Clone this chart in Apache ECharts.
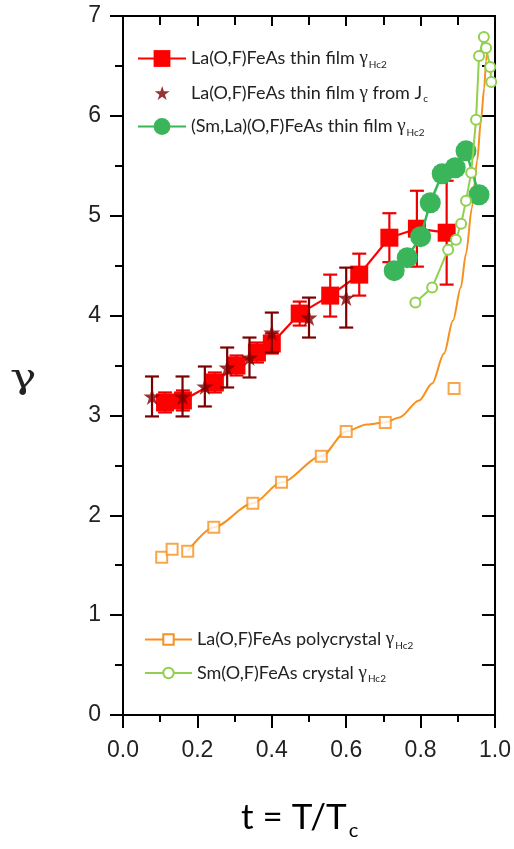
<!DOCTYPE html>
<html lang="en">
<head>
  <meta charset="UTF-8">
  <script src="https://cdn.jsdelivr.net/npm/echarts@6/dist/echarts.min.js"></script>
  <title>gamma vs t</title>
  <style>
    html, body { margin: 0; padding: 0; background: #fff; }
    #chart { width: 514px; height: 849px; }
  </style>
</head>
<body>
<div id="chart"></div>
<script>
  // La(O,F)FeAs thin film, gamma from Hc2 (red squares)
  var redT = [0.113, 0.161, 0.247, 0.305, 0.360, 0.400, 0.475, 0.557, 0.635, 0.716, 0.790, 0.870];
  var redG = [3.13, 3.15, 3.33, 3.50, 3.63, 3.72, 4.02, 4.20, 4.41, 4.78, 4.87, 4.83];
  var redErr = [0.10, 0.10, 0.10, 0.10, 0.10, 0.10, 0.12, 0.21, 0.21, 0.245, 0.38, 0.52];

  // La(O,F)FeAs thin film, gamma from Jc (stars)
  var starT = [0.078, 0.160, 0.220, 0.280, 0.340, 0.400, 0.500, 0.600];
  var starG = [3.19, 3.19, 3.29, 3.48, 3.58, 3.83, 3.98, 4.18];
  var starErr = [0.20, 0.20, 0.20, 0.20, 0.20, 0.20, 0.20, 0.30];

  // (Sm,La)(O,F)FeAs thin film
  var smlaT = [0.729, 0.764, 0.800, 0.826, 0.858, 0.893, 0.922, 0.957];
  var smlaG = [4.45, 4.58, 4.79, 5.13, 5.42, 5.48, 5.65, 5.21];

  // Sm(O,F)FeAs crystal
  var smT = [0.786, 0.831, 0.874, 0.895, 0.909, 0.922, 0.936, 0.949, 0.957, 0.970, 0.976, 0.987, 0.990];
  var smG = [4.13, 4.28, 4.66, 4.76, 4.92, 5.15, 5.43, 5.96, 6.60, 6.79, 6.68, 6.49, 6.34];

  // La(O,F)FeAs polycrystal points and its guide curve
  var polyT = [0.104, 0.132, 0.174, 0.244, 0.349, 0.426, 0.533, 0.600, 0.705, 0.890];
  var polyG = [1.58, 1.66, 1.64, 1.88, 2.12, 2.33, 2.59, 2.84, 2.93, 3.27];
  var fitT = [0.174, 0.244, 0.349, 0.426, 0.533, 0.600, 0.655, 0.705, 0.743, 0.796, 0.831, 0.863, 0.887, 0.908, 0.922, 0.938, 0.952, 0.962, 0.971, 0.976, 0.981];
  var fitG = [1.64, 1.88, 2.12, 2.33, 2.59, 2.84, 2.91, 2.93, 2.98, 3.15, 3.32, 3.62, 3.95, 4.28, 4.62, 5.08, 5.55, 5.95, 6.28, 6.55, 6.73];

  var N_RED = 'La(O,F)FeAs thin film γHc2';
  var N_STAR = 'La(O,F)FeAs thin film γ from Jc';
  var N_SMLA = '(Sm,La)(O,F)FeAs thin film γHc2';
  var N_POLY = 'La(O,F)FeAs polycrystal γHc2';
  var N_SM = 'Sm(O,F)FeAs crystal γHc2';

  var legendText = {};
  legendText[N_RED] = '{n|La(O,F)FeAs thin film }{g|γ}{s|Hc2}';
  legendText[N_STAR] = '{n|La(O,F)FeAs thin film }{g|γ}{n| from J}{s|c}';
  legendText[N_SMLA] = '{n|(Sm,La)(O,F)FeAs thin film }{g|γ}{s|Hc2}';
  legendText[N_POLY] = '{n|La(O,F)FeAs polycrystal }{g|γ}{s|Hc2}';
  legendText[N_SM] = '{n|Sm(O,F)FeAs crystal }{g|γ}{s|Hc2}';

  var STAR = 'path://M50,0 L61,35 L98,35 L68,57 L79,91 L50,70 L21,91 L32,57 L2,35 L39,35 Z';
  // same star with empty corners so the legend draws it smaller
  var STAR_PAD = 'path://M-22,-22 L-21.9,-22 Z M120,113 L119.9,113 Z M50,0 L61,35 L98,35 L68,57 L79,91 L50,70 L21,91 L32,57 L2,35 L39,35 Z';

  function pairs(xs, ys) {
    return xs.map(function (x, i) { return [x, ys[i]]; });
  }

  function errorBars(name, xs, ys, errs, color, z) {
    return {
      name: name,
      type: 'custom',
      z: z,
      silent: true,
      data: xs.map(function (x, i) { return [x, ys[i] - errs[i], ys[i] + errs[i]]; }),
      encode: { x: 0, y: [1, 2] },
      renderItem: function (params, api) {
        var x = api.value(0);
        var lo = api.coord([x, api.value(1)]);
        var hi = api.coord([x, api.value(2)]);
        var cw = 7;
        var st = { stroke: color, lineWidth: 2.2 };
        return {
          type: 'group',
          children: [
            { type: 'line', shape: { x1: lo[0], y1: lo[1], x2: hi[0], y2: hi[1] }, style: st },
            { type: 'line', shape: { x1: lo[0] - cw, y1: lo[1], x2: lo[0] + cw, y2: lo[1] }, style: st },
            { type: 'line', shape: { x1: hi[0] - cw, y1: hi[1], x2: hi[0] + cw, y2: hi[1] }, style: st }
          ]
        };
      }
    };
  }

  var black = { color: '#000', width: 2 };
  var labelFont = { fontFamily: 'Liberation Sans', fontSize: 23, color: '#222' };
  var richLegend = {
    n: { fontFamily: 'Lato', fontSize: 18, color: '#222' },
    g: { fontFamily: 'Liberation Serif', fontSize: 19, color: '#222' },
    s: { fontFamily: 'Lato', fontSize: 10, color: '#222', padding: [12, 0, 0, 1] }
  };

  var chart = echarts.init(document.getElementById('chart'));
  chart.setOption({
    animation: false,
    backgroundColor: '#fff',
    grid: { left: 123, right: 18, top: 16, bottom: 134, show: true, borderColor: '#000', borderWidth: 2 },
    xAxis: [{
      type: 'value', min: 0, max: 1, interval: 0.2, position: 'bottom',
      axisLine: { onZero: false, lineStyle: black },
      axisTick: { length: 13, lineStyle: black },
      minorTick: { show: true, splitNumber: 2, length: 7, lineStyle: black },
      splitLine: { show: false },
      axisLabel: Object.assign({ margin: 24, formatter: function (v) { return v.toFixed(1); } }, labelFont)
    }, {
      type: 'value', min: 0, max: 1, interval: 0.2, position: 'top', show: true,
      axisLine: { show: true, onZero: false, lineStyle: black },
      axisTick: { show: true, inside: true, length: 10, lineStyle: black },
      minorTick: { show: true, splitNumber: 2, length: 9, lineStyle: black },
      splitLine: { show: false },
      axisLabel: { show: false }
    }],
    yAxis: [{
      type: 'value', min: 0, max: 7, interval: 1, position: 'left',
      axisLine: { show: true, onZero: false, lineStyle: black },
      axisTick: { show: true, length: 13, lineStyle: black },
      minorTick: { show: true, splitNumber: 2, length: 8, lineStyle: black },
      splitLine: { show: false },
      axisLabel: Object.assign({ margin: 22 }, labelFont)
    }, {
      type: 'value', min: 0, max: 7, interval: 1, position: 'right', show: true,
      axisLine: { show: true, onZero: false, lineStyle: black },
      axisTick: { show: true, inside: true, length: 13, lineStyle: black },
      minorTick: { show: true, splitNumber: 2, length: 13, lineStyle: black },
      splitLine: { show: false },
      axisLabel: { show: false }
    }],
    legend: [{
      orient: 'vertical', left: 137, top: 49, padding: 0,
      itemWidth: 48, itemHeight: 21, itemGap: 13,
      data: [N_RED, { name: N_STAR, icon: STAR_PAD }, N_SMLA],
      formatter: function (name) { return legendText[name]; },
      textStyle: { rich: richLegend }
    }, {
      orient: 'vertical', left: 144, top: 630, padding: 0,
      itemWidth: 47, itemHeight: 13, itemGap: 13,
      data: [N_POLY, N_SM],
      formatter: function (name) { return legendText[name]; },
      textStyle: { rich: richLegend }
    }],
    graphic: [{
      type: 'text', x: 10, y: 362, scaleX: 1.3,
      style: { text: 'γ', font: '34px "DejaVu Serif"', fill: '#222' }
    }, {
      type: 'text', left: 241, top: 800,
      style: {
        text: '{a|t = T/T}{s|c}',
        rich: {
          a: { fontFamily: 'Lato', fontSize: 35, color: '#111' },
          s: { fontFamily: 'Lato', fontSize: 20, color: '#111', padding: [26, 0, 0, 2] }
        }
      }
    }],
    series: [
      {
        name: 'frame', type: 'scatter', xAxisIndex: 1, yAxisIndex: 1,
        data: [], silent: true
      },
      {
        name: N_POLY, type: 'line', z: 2,
        data: pairs(fitT, fitG),
        smooth: 0.3, smoothMonotone: 'x',
        symbol: 'emptyRect', showSymbol: false, symbolSize: 11,
        lineStyle: { color: '#f7901e', width: 2 },
        itemStyle: { color: '#f7901e', borderWidth: 2 }
      },
      {
        name: N_POLY, type: 'scatter', z: 3,
        data: pairs(polyT, polyG),
        symbol: 'emptyRect', symbolSize: 11,
        itemStyle: { color: '#f7901e', borderColor: '#f7901e', borderWidth: 2 }
      },
      errorBars('redErr', redT, redG, redErr, '#ee0000', 4),
      {
        name: N_RED, type: 'line', z: 5,
        data: pairs(redT, redG),
        symbol: 'rect', symbolSize: 18,
        lineStyle: { color: '#ff0000', width: 2.2 },
        itemStyle: { color: '#ff0000' }
      },
      errorBars('starErr', starT, starG, starErr, '#7b0000', 6),
      {
        name: N_STAR, type: 'scatter', z: 7,
        data: pairs(starT, starG),
        symbol: STAR, symbolSize: 17,
        itemStyle: { color: '#800000' }
      },
      {
        name: N_SMLA, type: 'line', z: 8,
        data: pairs(smlaT, smlaG),
        symbol: 'circle', symbolSize: 21,
        lineStyle: { color: '#3bb55a', width: 2.5 },
        itemStyle: { color: '#3bb55a' }
      },
      {
        name: N_SM, type: 'line', z: 9,
        data: pairs(smT, smG),
        symbol: 'emptyCircle', symbolSize: 10,
        lineStyle: { color: '#92d050', width: 2 },
        itemStyle: { color: '#92d050', borderWidth: 2 }
      }
    ]
  });
</script>
</body>
</html>
